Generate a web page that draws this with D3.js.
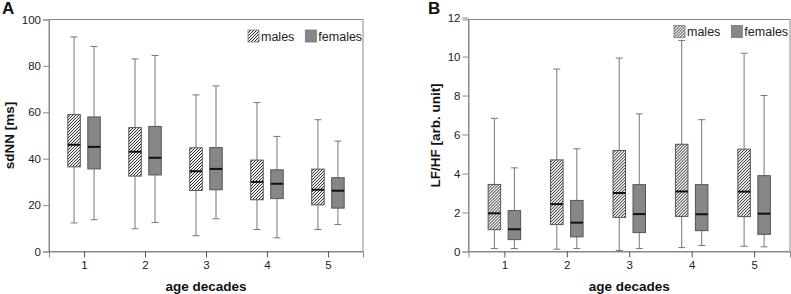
<!DOCTYPE html>
<html>
<head>
<meta charset="utf-8">
<script src="https://cdn.jsdelivr.net/npm/d3@7"></script>
<style>
  body { margin: 0; background: #fff; }
  svg { font-family: "Liberation Sans", Arial, sans-serif; }
</style>
</head>
<body>
<script>
// box plots of HRV by age decade, males vs females

var width = 791,
	height = 294;

var decades = ["1", "2", "3", "4", "5"];
var sexes = ["males", "females"];

// [min, q1, median, q3, max]
var sdnnMales = [
	[12.3, 36.5, 46.0, 59.0, 92.5],
	[9.8, 32.5, 43.0, 53.4, 83.0],
	[6.8, 26.3, 34.6, 44.7, 67.5],
	[9.5, 22.3, 30.0, 39.4, 64.2],
	[9.5, 20.1, 26.6, 35.5, 56.8]
];
var sdnnFemales = [
	[13.7, 35.6, 45.1, 58.0, 88.4],
	[12.5, 33.0, 40.4, 53.9, 84.5],
	[14.1, 26.6, 35.6, 44.8, 71.4],
	[5.9, 22.8, 29.2, 35.2, 49.6],
	[11.6, 18.7, 26.2, 31.8, 47.6]
];
var lfhfMales = [
	[0.15, 1.12, 1.96, 3.44, 6.83],
	[0.12, 1.38, 2.43, 4.70, 9.36],
	[0.05, 1.75, 3.00, 5.18, 9.92],
	[0.20, 1.80, 3.08, 5.50, 10.82],
	[0.27, 1.79, 3.07, 5.25, 10.17]
];
var lfhfFemales = [
	[0.15, 0.61, 1.14, 2.10, 4.29],
	[0.15, 0.75, 1.48, 2.62, 5.27],
	[0.15, 0.97, 1.92, 3.43, 7.06],
	[0.31, 1.07, 1.91, 3.43, 6.76],
	[0.24, 0.88, 1.94, 3.89, 8.00]
];
var sdnnTicks = [0, 20, 40, 60, 80, 100];
var lfhfTicks = [0, 2, 4, 6, 8, 10, 12];

var svg = d3.select("body").append("svg")
	.attr("width", width)
	.attr("height", height);

// hatch for males
var defs = svg.append("defs");
var pat = defs.append("pattern")
	.attr("id", "hatch")
	.attr("patternUnits", "userSpaceOnUse")
	.attr("width", 3)
	.attr("height", 3);
pat.append("rect")
	.attr("width", 3)
	.attr("height", 3)
	.attr("fill", "#f4f4f4");
pat.append("path")
	.attr("d", "M-1,1 l2,-2 M0,3 l3,-3 M2,4 l2,-2")
	.attr("stroke", "#2a2a2a")
	.attr("stroke-width", 1);

function panel(opts) {
	var g = svg.append("g");

	var x = d3.scalePoint()
		.domain(decades)
		.range([opts.left, opts.right])
		.padding(0.575);

	var y = d3.scaleLinear()
		.domain(opts.domain)
		.range([opts.bottom, opts.top]);

	var sub = d3.scaleBand()
		.domain(sexes)
		.range([-20, 20]);

	var boxW = 12.5,
		capW = 7;

	// frame
	g.append("rect")
		.attr("x", opts.left)
		.attr("y", opts.top)
		.attr("width", opts.right - opts.left)
		.attr("height", opts.bottom - opts.top)
		.attr("fill", "none")
		.attr("stroke", "#8a8a8a")
		.attr("stroke-width", 1);

	// y axis
	var ya = g.append("g")
		.attr("transform", "translate(" + opts.left + ",0)")
		.call(d3.axisLeft(y).tickValues(opts.ticks).tickSize(6).tickPadding(2));
	ya.select(".domain").attr("stroke", "#8a8a8a");
	ya.selectAll(".tick line").attr("stroke", "#8a8a8a");
	ya.selectAll("text")
		.attr("font-size", 11.5)
		.attr("fill", "#222")
		.style("font-family", "'Liberation Sans', Arial, sans-serif");

	// x axis
	var xa = g.append("g")
		.attr("transform", "translate(0," + opts.bottom + ")")
		.call(d3.axisBottom(x).tickSize(6).tickPadding(3));
	xa.select(".domain").attr("stroke", "#8a8a8a");
	xa.selectAll(".tick line").attr("stroke", "#555");
	xa.selectAll("text")
		.attr("font-size", 11.5)
		.attr("fill", "#222")
		.style("font-family", "'Liberation Sans', Arial, sans-serif");

	// boxes
	sexes.forEach(function(sex) {
		var data = sex == "males" ? opts.males : opts.females;
		var bg = g.selectAll(".box-" + sex)
			.data(data)
			.enter().append("g")
			.attr("transform", function(d, i) {
				return "translate(" + (x(decades[i]) + sub(sex) + sub.bandwidth() / 2) + ",0)";
			});

		// whiskers
		bg.append("line")
			.attr("x1", 0).attr("x2", 0)
			.attr("y1", function(d) { return y(d[0]); })
			.attr("y2", function(d) { return y(d[1]); })
			.attr("stroke", "#777");
		bg.append("line")
			.attr("x1", 0).attr("x2", 0)
			.attr("y1", function(d) { return y(d[3]); })
			.attr("y2", function(d) { return y(d[4]); })
			.attr("stroke", "#777");
		bg.append("line")
			.attr("x1", -capW / 2).attr("x2", capW / 2)
			.attr("y1", function(d) { return y(d[0]); })
			.attr("y2", function(d) { return y(d[0]); })
			.attr("stroke", "#777");
		bg.append("line")
			.attr("x1", -capW / 2).attr("x2", capW / 2)
			.attr("y1", function(d) { return y(d[4]); })
			.attr("y2", function(d) { return y(d[4]); })
			.attr("stroke", "#777");

		bg.append("rect")
			.attr("x", -boxW / 2)
			.attr("width", boxW)
			.attr("y", function(d) { return y(d[3]); })
			.attr("height", function(d) { return y(d[1]) - y(d[3]); })
			.attr("fill", sex == "males" ? "url(#hatch)" : "#878787")
			.attr("stroke", "#555")
			.attr("stroke-width", 1);

		bg.append("line")
			.attr("x1", -boxW / 2).attr("x2", boxW / 2)
			.attr("y1", function(d) { return y(d[2]); })
			.attr("y2", function(d) { return y(d[2]); })
			.attr("stroke", "#111")
			.attr("stroke-width", 2);
	});

	// legend
	var lg = g.append("g")
		.attr("transform", "translate(" + opts.legendX + "," + opts.legendY + ")");
	var lx = 0;
	sexes.forEach(function(sex) {
		lg.append("rect")
			.attr("x", lx)
			.attr("y", -6)
			.attr("width", 11)
			.attr("height", 12)
			.attr("fill", sex == "males" ? "url(#hatch)" : "#878787")
			.attr("stroke", "#777")
			.attr("stroke-width", 0.8);
		var t = lg.append("text")
			.attr("x", lx + 13)
			.attr("y", 4.5)
			.attr("font-size", 12.5)
			.attr("fill", "#222")
			.text(sex);
		lx += 13 + t.node().getComputedTextLength() + 11;
	});

	// axis titles
	g.append("text")
		.attr("x", (opts.left + opts.right) / 2)
		.attr("y", 291)
		.attr("text-anchor", "middle")
		.attr("font-size", 13.5)
		.attr("font-weight", "bold")
		.attr("fill", "#111")
		.text("age decades");

	g.append("text")
		.attr("transform", "translate(" + opts.yTitleX + "," + (opts.top + opts.bottom) / 2 + ") rotate(-90)")
		.attr("text-anchor", "middle")
		.attr("font-size", 13.5)
		.attr("font-weight", "bold")
		.attr("fill", "#111")
		.text(opts.yTitle);

	// panel letter
	g.append("text")
		.attr("x", opts.letterX)
		.attr("y", 14)
		.attr("font-size", 17)
		.attr("font-weight", "bold")
		.attr("fill", "#111")
		.text(opts.letter);
}

panel({
	left: 49, right: 363, top: 19.5, bottom: 251.5,
	domain: [0, 100], ticks: sdnnTicks,
	males: sdnnMales, females: sdnnFemales,
	legendX: 248, legendY: 36,
	yTitle: "sdNN [ms]", yTitleX: 14,
	letter: "A", letterX: 2
});

panel({
	left: 468.5, right: 790, top: 19.5, bottom: 251.5,
	domain: [0, 11.9], ticks: lfhfTicks,
	males: lfhfMales, females: lfhfFemales,
	legendX: 674, legendY: 31.5,
	yTitle: "LF/HF [arb. unit]", yTitleX: 440,
	letter: "B", letterX: 428
});
</script>
</body>
</html>
